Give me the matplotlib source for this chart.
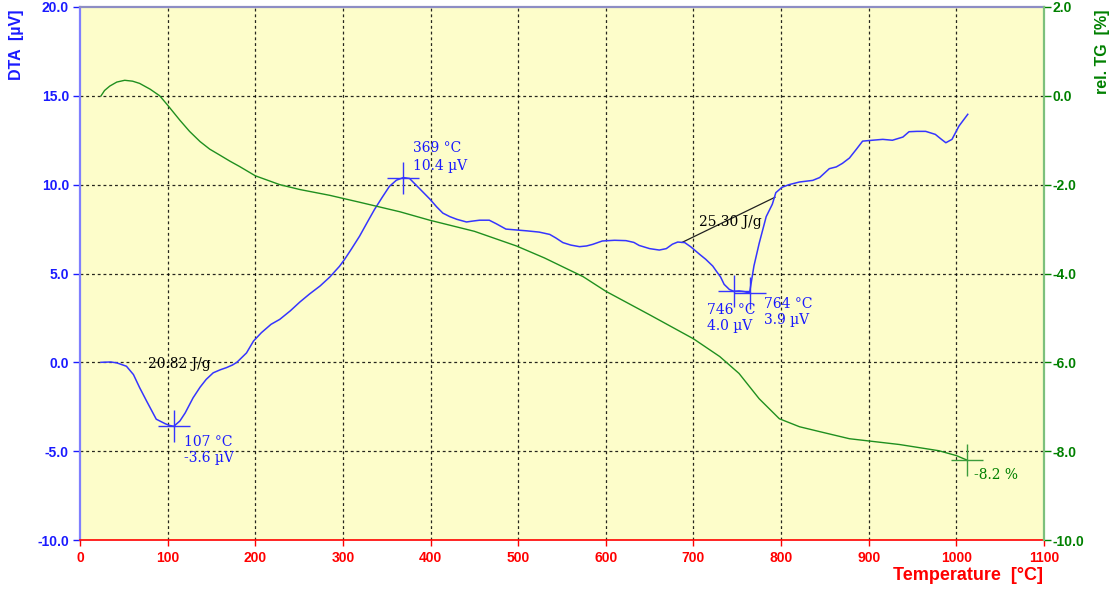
import matplotlib
matplotlib.use("Agg")
import matplotlib.pyplot as plt

# DTA signal (µV) against temperature (°C)
dta_temp = [24, 35, 42, 53, 61, 68, 76, 87, 97, 102, 107, 114, 120, 129, 137, 144, 152,
            160, 167, 174, 179, 190, 198, 207, 218, 228, 240, 251, 262, 274, 285, 296,
            302, 310, 319, 328, 336, 345, 353, 361, 369, 376, 383, 391, 399, 407, 414,
            422, 430, 441, 448, 456, 467, 475, 486, 498, 510, 524, 536, 543, 551, 560,
            570, 578, 585, 596, 610, 623, 632, 638, 650, 661, 669, 676, 682, 690, 697,
            707, 714, 722, 726, 731, 735, 741, 746, 752, 758, 764, 769, 775, 783, 790,
            794, 801, 809, 821, 836, 844, 855, 863, 870, 878, 886, 893, 904, 916, 927,
            939, 946, 955, 965, 976, 983, 988, 995, 1003, 1013]
dta_uv = [0.0, 0.02, -0.03, -0.22, -0.69, -1.42, -2.18, -3.2, -3.45, -3.55, -3.6, -3.3,
          -2.85, -2.0, -1.4, -0.96, -0.59, -0.42, -0.3, -0.15, 0.0, 0.53, 1.2, 1.67, 2.14,
          2.42, 2.9, 3.4, 3.85, 4.3, 4.8, 5.4, 5.8, 6.4, 7.1, 7.9, 8.6, 9.3, 9.9, 10.25,
          10.4, 10.35, 10.0, 9.6, 9.2, 8.75, 8.4, 8.2, 8.05, 7.9, 7.95, 8.0, 8.0, 7.8, 7.5,
          7.45, 7.4, 7.33, 7.2, 7.0, 6.74, 6.6, 6.51, 6.55, 6.64, 6.83, 6.87, 6.85, 6.75,
          6.58, 6.4, 6.32, 6.4, 6.65, 6.77, 6.74, 6.5, 6.08, 5.8, 5.42, 5.14, 4.8, 4.39,
          4.1, 4.0, 4.02, 3.98, 3.9, 5.42, 6.7, 8.2, 8.9, 9.55, 9.85, 10.0, 10.15, 10.24,
          10.4, 10.9, 11.0, 11.2, 11.5, 12.0, 12.45, 12.5, 12.55, 12.5, 12.68, 12.98, 13.0,
          13.0, 12.83, 12.55, 12.36, 12.55, 13.3, 13.96]

# Relative mass change TG (%) against temperature (°C)
tg_temp = [24, 28, 34, 42, 51, 60, 68, 80, 91, 100, 114, 125, 137, 148, 160, 171, 182,
           200, 228, 251, 285, 320, 365, 399, 450, 498, 530, 574, 600, 650, 700, 730,
           752, 775, 798, 821, 844, 878, 935, 980, 1000, 1012]
tg_pct = [0.0, 0.12, 0.22, 0.31, 0.35, 0.33, 0.28, 0.15, 0.0, -0.21, -0.55, -0.8, -1.03,
          -1.2, -1.34, -1.47, -1.59, -1.8, -2.0, -2.11, -2.24, -2.4, -2.61, -2.8, -3.05,
          -3.38, -3.65, -4.07, -4.4, -4.93, -5.47, -5.87, -6.25, -6.82, -7.27, -7.45,
          -7.56, -7.72, -7.85, -7.99, -8.1, -8.2]

# Evaluated DTA peaks (°C, µV) and the TG end point (°C, %)
peak_temp = [107, 369, 746, 764]
peak_uv = [-3.6, 10.4, 4.0, 3.9]
tg_mark_temp = 1012
tg_mark_pct = -8.2

# Peak-area baseline of the second endotherm (°C, µV) and enthalpies (J/g)
base2_temp = [687, 793]
base2_uv = [6.75, 9.29]
enthalpy = [20.82, 25.30]

x_ticks = list(range(0, 1101, 100))
dta_ticks = [-10, -5, 0, 5, 10, 15, 20]
tg_ticks = [-10, -8, -6, -4, -2, 0, 2]

BLUE = "#1a1aff"
LINE_BLUE = "#3535ff"
GREEN = "#008000"
LINE_GREEN = "#1f8f1f"
RED = "#ff0000"
SANS = "Liberation Sans"
SERIF = "DejaVu Serif"
ANN_SIZE = 10

fig = plt.figure(figsize=(11.18, 5.91), dpi=100)
ax = fig.add_axes([80 / 1118, 1 - 540 / 591, (1044 - 80) / 1118, (540 - 7) / 591])
ax.set_facecolor("#fdfdca")
ax.set_xlim(0, 1100)
ax.set_ylim(-10, 20)

# dashed grid inside the plot area
for t in x_ticks[1:-1]:
    ax.axvline(t, color="black", lw=0.9, ls=(0, (2.3, 2.3)), alpha=0.85, zorder=1)
for v in dta_ticks[1:-1]:
    ax.axhline(v, color="black", lw=0.9, ls=(0, (2.3, 2.3)), alpha=0.85, zorder=1)

ax.plot(dta_temp, dta_uv, color=LINE_BLUE, lw=1.1, zorder=3)

# baseline and enthalpy labels
ax.plot(base2_temp, base2_uv, color="#202020", lw=0.9, zorder=2)
ax.text(78, -0.3, f"{enthalpy[0]:.2f} J/g", family=SERIF, fontsize=ANN_SIZE,
        color="black", va="baseline", ha="left", zorder=4)
ax.text(706, 7.67, f"{enthalpy[1]:.2f} J/g", family=SERIF, fontsize=ANN_SIZE,
        color="black", va="baseline", ha="left", zorder=4)

# peak crosses and their labels
ax.plot(peak_temp, peak_uv, ls="none", marker="+", ms=23, mew=1.0, color=LINE_BLUE, zorder=4)
label_offsets = [(10, -20, -36), (10, 26, 8), (-27, -23, -39), (14, -15, -31)]
for t, v, (dx, dy1, dy2) in zip(peak_temp, peak_uv, label_offsets):
    ax.annotate(f"{t} °C", (t, v), xytext=(dx, dy1), textcoords="offset pixels",
                family=SERIF, fontsize=ANN_SIZE, color=BLUE, va="baseline", ha="left",
                zorder=5)
    ax.annotate(f"{v:.1f} µV", (t, v), xytext=(dx, dy2), textcoords="offset pixels",
                family=SERIF, fontsize=ANN_SIZE, color=BLUE, va="baseline", ha="left",
                zorder=5)

# axis styling: DTA (left), temperature (bottom)
ax.set_xticks(x_ticks)
ax.set_yticks(dta_ticks)
ax.set_xticklabels([str(t) for t in x_ticks])
ax.set_yticklabels([f"{v:.1f}" for v in dta_ticks])
ax.tick_params(axis="y", colors=BLUE, length=5, width=1, pad=3, labelsize=10)
ax.tick_params(axis="x", colors=RED, length=4, width=1, pad=4, labelsize=10)
for lab in ax.get_yticklabels() + ax.get_xticklabels():
    lab.set_family(SANS)
    lab.set_fontweight("bold")
ax.spines["left"].set_color("#7f7fff")
ax.spines["left"].set_linewidth(1.6)
ax.spines["bottom"].set_color(RED)
ax.spines["bottom"].set_linewidth(1.2)
ax.spines["top"].set_color("#8d8dc4")
ax.spines["top"].set_linewidth(1.6)
ax.spines["right"].set_visible(False)

# TG on the right axis
ax2 = ax.twinx()
ax2.set_ylim(-10, 2)
ax2.set_xlim(0, 1100)
ax2.plot(tg_temp, tg_pct, color=LINE_GREEN, lw=1.0, zorder=3)
ax2.plot([tg_mark_temp], [tg_mark_pct], ls="none", marker="+", ms=23, mew=1.0,
         color="#3c9c3c", zorder=4)
ax2.annotate(f"{tg_mark_pct:.1f} %", (tg_mark_temp, tg_mark_pct), xytext=(7, -19),
             textcoords="offset pixels", family=SERIF, fontsize=ANN_SIZE, color=GREEN,
             va="baseline", ha="left")
ax2.set_yticks(tg_ticks)
ax2.set_yticklabels([f"{v:.1f}" for v in tg_ticks])
ax2.tick_params(axis="y", colors=GREEN, length=5, width=1, pad=1, labelsize=10)
for lab in ax2.get_yticklabels():
    lab.set_family(SANS)
    lab.set_fontweight("bold")
ax2.spines["right"].set_color("#7cc07c")
ax2.spines["right"].set_linewidth(1.6)
for s in ("left", "top", "bottom"):
    ax2.spines[s].set_visible(False)

# axis titles
fig.text(17 / 1118, 1 - 9 / 591, "DTA  [µV]", rotation=90, ha="center", va="top",
         family=SANS, fontweight="bold", fontsize=11.5, color=BLUE)
fig.text(1102 / 1118, 1 - 9 / 591, "rel. TG  [%]", rotation=90, ha="center", va="top",
         family=SANS, fontweight="bold", fontsize=11.5, color=GREEN)
fig.text(1043 / 1118, 1 - 580 / 591, "Temperature  [°C]", ha="right", va="baseline",
         family=SANS, fontweight="bold", fontsize=13, color=RED)

fig.savefig("out.png", dpi=100, facecolor="white")
